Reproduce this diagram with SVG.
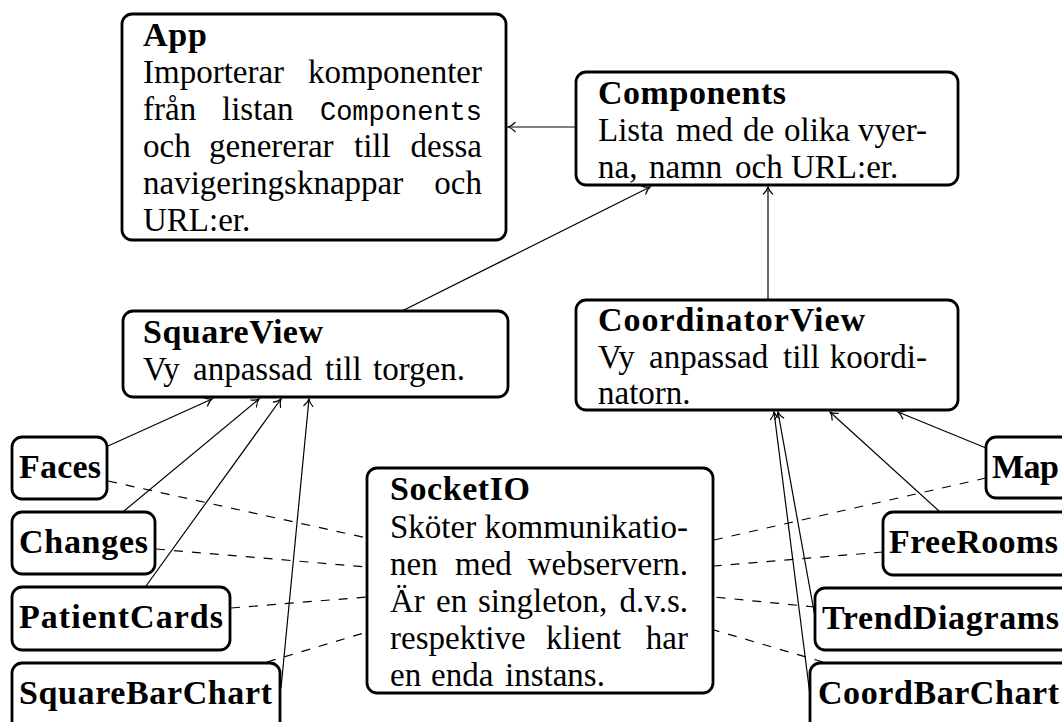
<svg xmlns="http://www.w3.org/2000/svg" width="1062" height="722" viewBox="0 0 1062 722">
  <style>
    .box { fill: #fff; stroke: #000; stroke-width: 2.8; }
    .t { font-family: "Liberation Serif", serif; font-size: 33px; fill: #000; }
    .b { font-weight: bold; font-size: 34px; }
    .tt { font-family: "Liberation Mono", monospace; font-size: 27px; }
    .e { text-anchor: end; }
    .edge { fill: none; stroke: #000; stroke-width: 1.2; }
    .arrow { marker-end: url(#tip); }
    .dash { stroke-dasharray: 9 9; }
  </style>
  <defs>
    <marker id="tip" markerUnits="userSpaceOnUse" markerWidth="14" markerHeight="14" viewBox="-10 -7 12 14" refX="0" refY="0" orient="auto" overflow="visible">
      <path d="M-7,-4.5 C-4.5,-1.8 -1.5,-0.4 0,0 C-1.5,0.4 -4.5,1.8 -7,4.5" fill="none" stroke="#000" stroke-width="1.2" stroke-linecap="round"/>
    </marker>
  </defs>

  <rect width="1062" height="722" fill="#fff"/>

  <!-- nodes -->
  <g id="app">
    <rect class="box" x="122" y="14" width="384" height="226" rx="10"/>
    <text class="t b" x="143" y="46" textLength="64">App</text>
    <text class="t" y="83"><tspan x="143">Importerar</tspan><tspan x="482" class="e">komponenter</tspan></text>
    <text class="t" y="120"><tspan x="143">från</tspan><tspan x="222">listan</tspan><tspan x="482" class="tt e">Components</tspan></text>
    <text class="t" y="157"><tspan x="143">och</tspan><tspan x="209">genererar</tspan><tspan x="354">till</tspan><tspan x="482" class="e">dessa</tspan></text>
    <text class="t" y="194"><tspan x="143">navigeringsknappar</tspan><tspan x="482" class="e">och</tspan></text>
    <text class="t" x="143" y="231">URL:er.</text>
  </g>

  <g id="components">
    <rect class="box" x="576" y="72" width="382" height="113" rx="10"/>
    <text class="t b" x="598" y="104" textLength="188">Components</text>
    <text class="t" y="141"><tspan x="598">Lista</tspan><tspan x="676">med</tspan><tspan x="743">de</tspan><tspan x="784">olika</tspan><tspan x="927" class="e">vyer-</tspan></text>
    <text class="t" y="178"><tspan x="598">na,</tspan><tspan x="649">namn</tspan><tspan x="735">och</tspan><tspan x="791">URL:er.</tspan></text>
  </g>

  <g id="squareview">
    <rect class="box" x="123" y="311" width="385" height="86" rx="10"/>
    <text class="t b" x="143" y="343" textLength="180">SquareView</text>
    <text class="t" y="380"><tspan x="143">Vy</tspan><tspan x="193">anpassad</tspan><tspan x="325">till</tspan><tspan x="373">torgen.</tspan></text>
  </g>

  <g id="coordinatorview">
    <rect class="box" x="576" y="300" width="382" height="110" rx="10"/>
    <text class="t b" x="598" y="331" textLength="267">CoordinatorView</text>
    <text class="t" y="368"><tspan x="598">Vy</tspan><tspan x="649">anpassad</tspan><tspan x="783">till</tspan><tspan x="927" class="e">koordi-</tspan></text>
    <text class="t" x="598" y="404">natorn.</text>
  </g>

  <g id="socketio">
    <rect class="box" x="367" y="468" width="346" height="225" rx="10"/>
    <text class="t b" x="390" y="500" textLength="140">SocketIO</text>
    <text class="t" y="537.5"><tspan x="390">Sköter</tspan><tspan x="688" class="e">kommunikatio-</tspan></text>
    <text class="t" y="574.5"><tspan x="390">nen</tspan><tspan x="455">med</tspan><tspan x="688" class="e">webservern.</tspan></text>
    <text class="t" y="611.5"><tspan x="390">Är</tspan><tspan x="436">en</tspan><tspan x="478">singleton,</tspan><tspan x="688" class="e">d.v.s.</tspan></text>
    <text class="t" y="649"><tspan x="390">respektive</tspan><tspan x="546">klient</tspan><tspan x="688" class="e">har</tspan></text>
    <text class="t" y="686"><tspan x="390">en</tspan><tspan x="431">enda</tspan><tspan x="505">instans.</tspan></text>
  </g>

  <g id="faces">
    <rect class="box" x="12" y="437" width="95" height="62" rx="10"/>
    <text class="t b" x="19" y="478" textLength="82">Faces</text>
  </g>
  <g id="changes">
    <rect class="box" x="12" y="512" width="143" height="62" rx="10"/>
    <text class="t b" x="19" y="553" textLength="129">Changes</text>
  </g>
  <g id="patientcards">
    <rect class="box" x="12" y="587" width="218" height="63" rx="10"/>
    <text class="t b" x="19" y="628" textLength="204">PatientCards</text>
  </g>
  <g id="squarebarchart">
    <rect class="box" x="12" y="663" width="268" height="72" rx="10"/>
    <text class="t b" x="19" y="704" textLength="253">SquareBarChart</text>
  </g>

  <g id="map">
    <rect class="box" x="986" y="437" width="100" height="61" rx="10"/>
    <text class="t b" x="992" y="478" textLength="67">Map</text>
  </g>
  <g id="freerooms">
    <rect class="box" x="883" y="512" width="200" height="63" rx="10"/>
    <text class="t b" x="889" y="553" textLength="169">FreeRooms</text>
  </g>
  <g id="trenddiagrams">
    <rect class="box" x="815" y="588" width="270" height="62" rx="10"/>
    <text class="t b" x="822" y="629" textLength="237">TrendDiagrams</text>
  </g>
  <g id="coordbarchart">
    <rect class="box" x="810" y="663" width="270" height="72" rx="10"/>
    <text class="t b" x="818" y="704" textLength="241">CoordBarChart</text>
  </g>

  <!-- connectors -->
  <g id="connectors">
    <path class="edge arrow" d="M576,127 H508"/>
    <path class="edge arrow" d="M402,311 L650,187"/>
    <path class="edge arrow" d="M768,300 V187"/>

    <path class="edge arrow" d="M108,446 L212,399"/>
    <path class="edge arrow" d="M124,511 L259,399"/>
    <path class="edge arrow" d="M146,586 L281,399"/>
    <path class="edge arrow" d="M281,688 L309,399"/>

    <path class="edge arrow" d="M986,448 L898,412"/>
    <path class="edge arrow" d="M939,511 L830,412"/>
    <path class="edge arrow" d="M815,617 L778,412"/>
    <path class="edge arrow" d="M810,695 L774,412"/>

    <path class="edge dash" d="M108,481 L367,538"/>
    <path class="edge dash" d="M156,549 L367,567"/>
    <path class="edge dash" d="M231,608 L367,597"/>
    <path class="edge dash" d="M267,662 L367,632"/>

    <path class="edge dash" d="M986,478 L714,540"/>
    <path class="edge dash" d="M883,552 L714,566"/>
    <path class="edge dash" d="M815,607 L714,597"/>
    <path class="edge dash" d="M823,662 L714,630"/>
  </g>
</svg>
